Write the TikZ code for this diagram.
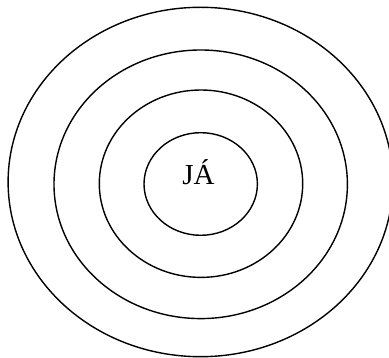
\documentclass[tikz,border=0pt]{standalone}
\usepackage{fontspec}
\setmainfont{Liberation Serif}
\begin{document}
\begin{tikzpicture}[x=1pt,y=1pt,ring/.style={draw=black,line width=1.4pt}]
\useasboundingbox (0,0) rectangle (389,358);
\draw[ring] (200.5,176) ellipse [x radius=192.4, y radius=174.7];
\draw[ring] (200.7,173.7) ellipse [x radius=146.7, y radius=134.3];
\draw[ring] (201,174.3) ellipse [x radius=101.7, y radius=93.7];
\draw[ring] (200.7,174) ellipse [x radius=56.7, y radius=51.3];
\node[anchor=base,inner sep=0pt,font=\fontsize{29}{33}\selectfont] (ja) at (198.5,173) {JÁ};
\end{tikzpicture}
\end{document}
